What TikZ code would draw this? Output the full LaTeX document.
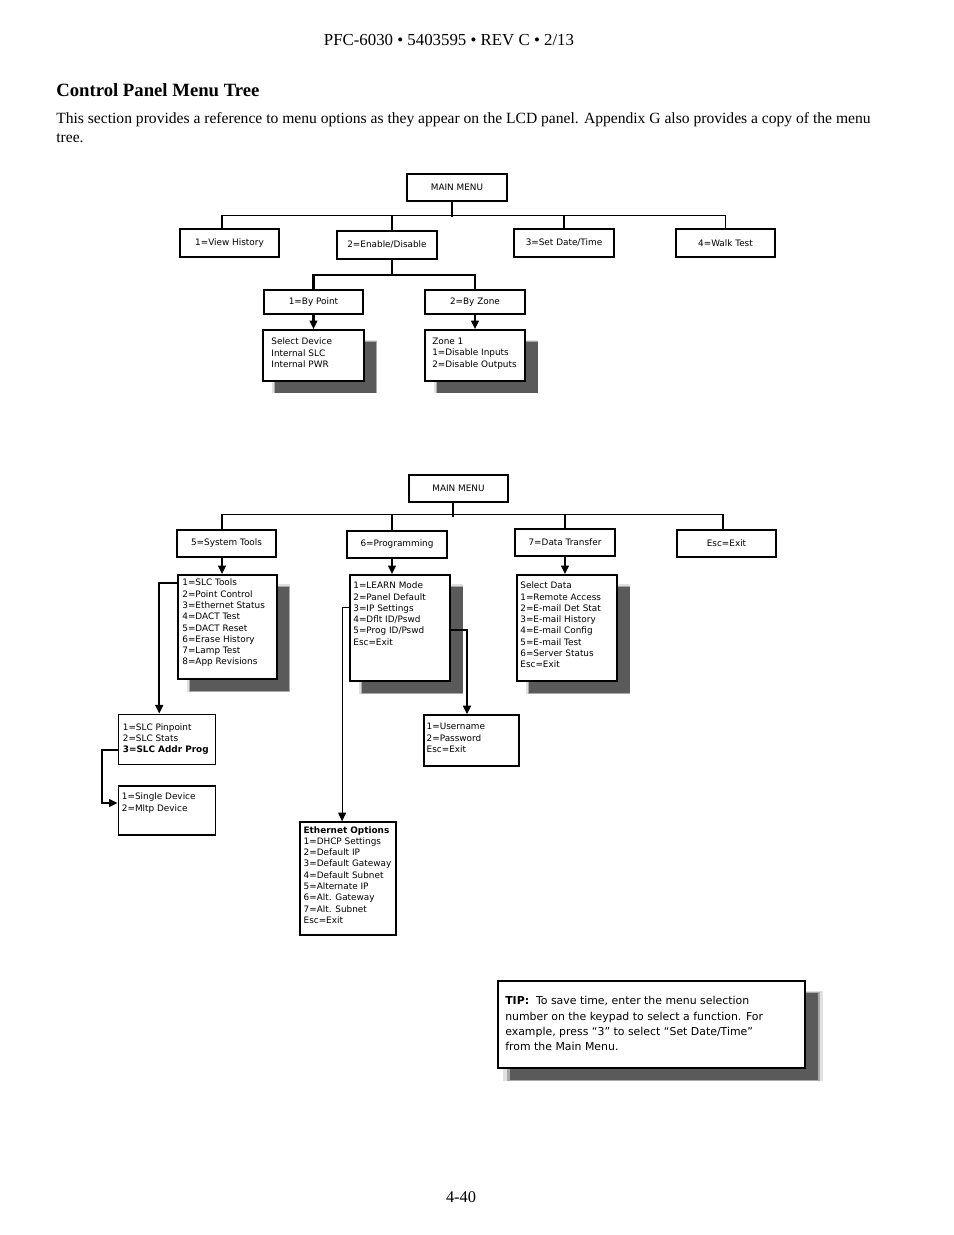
\documentclass[tikz,border=0pt]{standalone}
\usepackage{fontspec}
\setmainfont{Liberation Serif}
\newfontfamily\lcdfont{DejaVu Sans}
\usetikzlibrary{positioning}
\usetikzlibrary{shadows}
\usetikzlibrary {arrows.meta}

\begin{document}
\begin{tikzpicture}[
    x=0.6415pt, y=-0.6415pt,
    menubox/.style={draw=black, line width=1.4pt, fill=white, minimum width=64pt, minimum height=17.5pt, inner sep=1pt, font=\lcdfont\fontsize{5.7}{7.2}\selectfont},
    listbox/.style={draw=black, line width=1.2pt, fill=white, inner sep=0pt},
    plainbox/.style={draw=black, line width=0.9pt, fill=white, inner sep=0pt},
    listtext/.style={anchor=north west, align=left, inner sep=0pt, font=\lcdfont\fontsize{5.7}{7.25}\selectfont},
    softshadow/.style={
        general shadow={shadow xshift=7pt, shadow yshift=-7pt, fill=black!40, opacity=.3, shadow scale=1.04},
        general shadow={shadow xshift=7.5pt, shadow yshift=-7.5pt, fill=black!55, opacity=.5, shadow scale=1.02},
        general shadow={shadow xshift=8pt, shadow yshift=-8pt, fill=black!68, opacity=.9}},
    busline/.style={line width=0.8pt},
    feedline/.style={line width=1.4pt},
    arrowline/.style={line width=1.3pt, -{Triangle[width=5pt, length=5.5pt]}},
    thinarrow/.style={line width=0.7pt, -{Triangle[width=5pt, length=5.5pt]}}
]
    \fill [white] (0, 0) rectangle (954, 1235);
    \useasboundingbox (0, 0) rectangle (954, 1235);

    % Page header and intro
    \node at (449, 40) [font=\fontsize{10.8}{12}\selectfont](header){PFC-6030 • 5403595 • REV C • 2/13};
    \node at (56, 90) [anchor=west, inner sep=0pt, font=\bfseries\fontsize{12}{14}\selectfont](title){Control Panel Menu Tree};
    \node at (56, 112) [anchor=north west, align=left, inner sep=0pt, font=\fontsize{10}{12.2}\selectfont](intro){This section provides a reference to menu options as they appear on the LCD panel. Appendix G also provides a copy of the menu\\tree.};
    \node at (461, 1197) [font=\fontsize{10.5}{12}\selectfont](pagenum){4-40};

    % Menu tree, part 1
    % - [Top row]
    \node at (457, 187.5) [menubox](mainA){MAIN MENU};
    \node at (229.5, 243) [menubox](viewhist){1=View History};
    \node at (387, 245) [menubox](enable){2=Enable/Disable};
    \node at (564, 243) [menubox](setdate){3=Set Date/Time};
    \node at (725.5, 243) [menubox](walktest){4=Walk Test};
    % - [Enable/Disable branch]
    \node at (313.5, 302) [menubox, minimum height=15.4pt](bypoint){1=By Point};
    \node at (475, 302) [menubox, minimum height=15.4pt](byzone){2=By Zone};
    \node at (313.5, 355.5) [listbox, softshadow, minimum width=64.8pt, minimum height=32.7pt,
        label={[listtext, xshift=5.8pt, yshift=-5.6pt]north west:{Select Device\\Internal SLC\\Internal PWR}}](seldev){};
    \node at (475, 355.5) [listbox, softshadow, minimum width=64.2pt, minimum height=32.7pt,
        label={[listtext, xshift=5.1pt, yshift=-5.6pt]north west:{Zone 1\\1=Disable Inputs\\2=Disable Outputs}}](zone){};

    % -- The bus under MAIN MENU
    \draw [feedline] ([xshift=-3pt]mainA.south) -- ++(0, 15);
    \draw [busline] ([xshift=-4.8pt]viewhist.north) -- ++(0, -13) -| (walktest.north);
    \draw [busline] ([xshift=3.2pt]enable.north) -- ++(0, -15);
    \draw [busline] (setdate.north) -- ++(0, -13);
    % -- Enable/Disable to By Point / By Zone
    \draw [feedline] ([xshift=3.2pt]enable.south) -- ++(0, 15) coordinate (splitA);
    \draw [feedline] (bypoint.north) |- (splitA) -| (byzone.north);
    \draw [arrowline] (bypoint.south) -- (seldev.north);
    \draw [arrowline] (byzone.south) -- (zone.north);

    % Menu tree, part 2
    % - [Top row]
    \node at (458.5, 488.5) [menubox](mainB){MAIN MENU};
    \node at (226.5, 543.5) [menubox](systools){5=System Tools};
    \node at (397, 544.5) [menubox](program){6=Programming};
    \node at (565, 542.5) [menubox](datatrans){7=Data Transfer};
    \node at (726.5, 543.5) [menubox](escexit){Esc=Exit};
    % - [Sub menus]
    \node at (227.5, 627) [listbox, softshadow, minimum width=63.5pt, minimum height=66.7pt,
        label={[listtext, xshift=3.2pt, yshift=-3pt]north west:{1=SLC Tools\\2=Point Control\\3=Ethernet Status\\4=DACT Test\\5=DACT Reset\\6=Erase History\\7=Lamp Test\\8=App Revisions}}](stlist){};
    \node at (400, 628) [listbox, softshadow, minimum width=64.2pt, minimum height=68pt,
        label={[listtext, xshift=2.6pt, yshift=-4.9pt]north west:{1=LEARN Mode\\2=Panel Default\\3=IP Settings\\4=Dflt ID/Pswd\\5=Prog ID/Pswd\\Esc=Exit}}](pglist){};
    \node at (567, 628) [listbox, softshadow, minimum width=64.2pt, minimum height=68pt,
        label={[listtext, xshift=2.6pt, yshift=-4.9pt]north west:{Select Data\\1=Remote Access\\2=E-mail Det Stat\\3=E-mail History\\4=E-mail Config\\5=E-mail Test\\6=Server Status\\Esc=Exit}}](dtlist){};
    % - [Third level]
    \node at (167, 739.5) [listbox, minimum width=62.2pt, minimum height=32.1pt,
        label={[listtext, xshift=3.2pt, yshift=-6.2pt]north west:{1=SLC Pinpoint\\2=SLC Stats\\\textbf{3=SLC Addr Prog}}}](slcbox){};
    \node at (167, 810.5) [listbox, minimum width=62.2pt, minimum height=31.4pt,
        label={[listtext, xshift=2.6pt, yshift=-4.9pt]north west:{1=Single Device\\2=Mltp Device}}](sglbox){};
    \node at (471.5, 740.5) [plainbox, minimum width=61pt, minimum height=32.7pt,
        label={[listtext, xshift=2pt, yshift=-5.6pt]north west:{1=Username\\2=Password\\Esc=Exit}}](userbox){};
    \node at (348, 878.5) [plainbox, minimum width=61.6pt, minimum height=72.5pt,
        label={[listtext, xshift=2.6pt, yshift=-3pt]north west:{\textbf{Ethernet Options}\\1=DHCP Settings\\2=Default IP\\3=Default Gateway\\4=Default Subnet\\5=Alternate IP\\6=Alt. Gateway\\7=Alt. Subnet\\Esc=Exit}}](ethbox){};

    % -- The bus under MAIN MENU
    \draw [feedline] ([xshift=-3.5pt]mainB.south) -- ++(0, 14);
    \draw [busline] ([xshift=-2.9pt]systools.north) -- ++(0, -14) -| ([xshift=-2.2pt]escexit.north);
    \draw [busline] ([xshift=-3.2pt]program.north) -- ++(0, -15);
    \draw [busline] (datatrans.north) -- ++(0, -13);
    % -- Into the sub menus
    \draw [arrowline] ([xshift=-2.9pt]systools.south) -- ([xshift=-2.9pt]systools.south |- stlist.north);
    \draw [arrowline] ([xshift=-3.2pt]program.south) -- ([xshift=-3.2pt]program.south |- pglist.north);
    \draw [arrowline] (datatrans.south) -- (datatrans.south |- dtlist.north);
    % -- From menu lines to third level
    \draw [arrowline] ([yshift=-5.8pt]stlist.north west) -| ([xshift=-5pt]slcbox.north);
    \draw [arrowline] ([yshift=-23.1pt]slcbox.north west) -- ++(-16, 0) |- ([yshift=-11.5pt]sglbox.north west);
    \draw [thinarrow] ([yshift=-21.2pt]pglist.north west) -| ([xshift=-3.8pt]ethbox.north);
    \draw [arrowline] ([yshift=-35.9pt]pglist.north east) -| ([xshift=-2.9pt]userbox.north);

    % TIP box
    \node at (651.5, 1024.5) [listbox, softshadow, minimum width=197pt, minimum height=55.8pt,
        label={[listtext, font=\lcdfont\fontsize{7}{9.8}\selectfont, xshift=5.1pt, yshift=-10.3pt]north west:{\textbf{TIP:}~ To save time, enter the menu selection\\number on the keypad to select a function. For\\example, press “3” to select “Set Date/Time”\\from the Main Menu.}}](tip){};

\end{tikzpicture}
\end{document}
